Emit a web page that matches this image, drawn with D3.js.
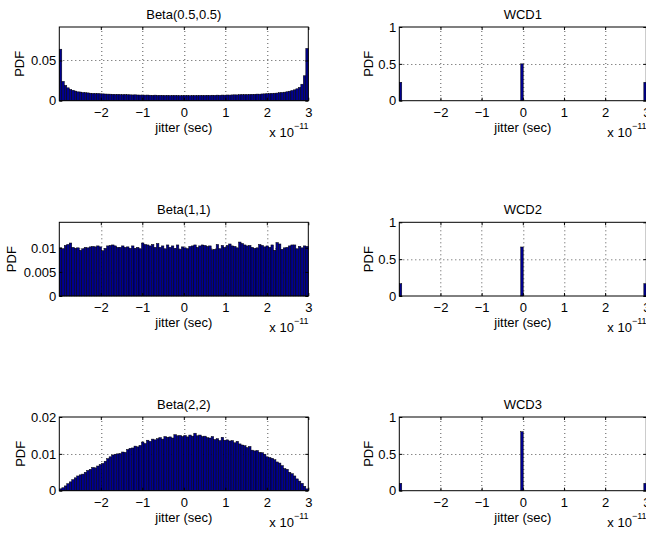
<!DOCTYPE html>
<html>
<head>
<meta charset="utf-8">
<script src="https://cdn.jsdelivr.net/npm/d3@7"></script>
<style>
  body { margin: 0; background: #fff; }
  svg { display: block; font-family: "Liberation Sans", Arial, Helvetica, sans-serif; }
</style>
</head>
<body>
<svg id="chart" width="646" height="533"></svg>
<script>
// x axis in units of 1e-11 sec, 100 histogram bins over [-3, 3]
const xDomain = [-3, 3]
const xTicks = [-2, -1, 0, 1, 2, 3]

const betaTitles = ['Beta(0.5,0.5)', 'Beta(1,1)', 'Beta(2,2)']
const wcdTitles = ['WCD1', 'WCD2', 'WCD3']

const beta05 = [0.064, 0.024, 0.019, 0.016, 0.014, 0.013, 0.012, 0.011, 0.0108, 0.0102,
  0.0099, 0.0097, 0.0093, 0.0091, 0.0089, 0.0090, 0.0086, 0.0085, 0.0083, 0.0082,
  0.0081, 0.0080, 0.0078, 0.0079, 0.0076, 0.0075, 0.0076, 0.0074, 0.0073, 0.0072,
  0.0073, 0.0071, 0.0070, 0.0071, 0.0069, 0.0070, 0.0068, 0.0067, 0.0069, 0.0066,
  0.0067, 0.0066, 0.0065, 0.0066, 0.0064, 0.0065, 0.0066, 0.0064, 0.0063, 0.0064,
  0.0064, 0.0065, 0.0063, 0.0064, 0.0065, 0.0064, 0.0066, 0.0065, 0.0066, 0.0067,
  0.0066, 0.0068, 0.0067, 0.0069, 0.0068, 0.0070, 0.0069, 0.0071, 0.0070, 0.0072,
  0.0073, 0.0072, 0.0074, 0.0075, 0.0076, 0.0075, 0.0078, 0.0079, 0.0080, 0.0082,
  0.0081, 0.0084, 0.0085, 0.0087, 0.0089, 0.0091, 0.0093, 0.0095, 0.0099, 0.0102,
  0.0106, 0.0111, 0.0118, 0.0126, 0.0135, 0.0148, 0.0165, 0.0205, 0.031, 0.065]

const beta11 = [0.0100, 0.0098, 0.0105, 0.0107, 0.0110, 0.0101, 0.0099, 0.0100, 0.0095, 0.0098,
  0.0101, 0.0100, 0.0102, 0.0103, 0.0102, 0.0104, 0.0102, 0.0094, 0.0099, 0.0104,
  0.0105, 0.0106, 0.0104, 0.0101, 0.0101, 0.0104, 0.0101, 0.0102, 0.0099, 0.0104,
  0.0099, 0.0101, 0.0098, 0.0110, 0.0107, 0.0106, 0.0104, 0.0107, 0.0101, 0.0109,
  0.0101, 0.0104, 0.0098, 0.0106, 0.0101, 0.0104, 0.0099, 0.0106, 0.0097, 0.0102,
  0.0100, 0.0098, 0.0103, 0.0104, 0.0106, 0.0101, 0.0104, 0.0106, 0.0105, 0.0103,
  0.0104, 0.0096, 0.0097, 0.0107, 0.0098, 0.0105, 0.0101, 0.0105, 0.0108, 0.0104,
  0.0103, 0.0100, 0.0112, 0.0109, 0.0106, 0.0104, 0.0105, 0.0101, 0.0099, 0.0100,
  0.0107, 0.0105, 0.0102, 0.0104, 0.0101, 0.0106, 0.0095, 0.0111, 0.0108, 0.0097,
  0.0100, 0.0101, 0.0104, 0.0106, 0.0106, 0.0098, 0.0103, 0.0100, 0.0104, 0.0103]

const beta22 = [0.0005, 0.0008, 0.0013, 0.0019, 0.0024, 0.0030, 0.0035, 0.0040, 0.0043, 0.0045,
  0.0050, 0.0055, 0.0058, 0.0063, 0.0062, 0.0067, 0.0071, 0.0074, 0.0080, 0.0087,
  0.0092, 0.0097, 0.0099, 0.0100, 0.0101, 0.0105, 0.0104, 0.0112, 0.0115, 0.0116,
  0.0121, 0.0119, 0.0123, 0.0132, 0.0128, 0.0137, 0.0134, 0.0140, 0.0138, 0.0141,
  0.0144, 0.0140, 0.0147, 0.0145, 0.0146, 0.0143, 0.0152, 0.0149, 0.0150, 0.0147,
  0.0150, 0.0146, 0.0151, 0.0148, 0.0156, 0.0149, 0.0151, 0.0147, 0.0148, 0.0144,
  0.0143, 0.0147, 0.0139, 0.0141, 0.0136, 0.0145, 0.0137, 0.0138, 0.0135, 0.0136,
  0.0130, 0.0134, 0.0127, 0.0124, 0.0122, 0.0117, 0.0120, 0.0110, 0.0108, 0.0109,
  0.0104, 0.0103, 0.0099, 0.0092, 0.0090, 0.0088, 0.0084, 0.0078, 0.0075, 0.0068,
  0.0060, 0.0058, 0.0050, 0.0046, 0.0040, 0.0032, 0.0026, 0.0020, 0.0012, 0.0005]

const betaValues = [beta05, beta11, beta22]
const betaYMax = [0.0916, 0.0153, 0.02]
const betaYTicks = [[0, 0.05], [0, 0.005, 0.01], [0, 0.01, 0.02]]

// worst-case distributions: spikes at the two edges and at zero
const wcdX = [-2.97, -0.02, 2.97]
const wcd1 = [0.25, 0.5, 0.25]
const wcd2 = [0.167, 0.665, 0.167]
const wcd3 = [0.1, 0.8, 0.1]
const wcdValues = [wcd1, wcd2, wcd3]
const wcdYTicks = [0, 0.5, 1]

const svg = d3.select('#chart')
const binW = (xDomain[1] - xDomain[0]) / 100
const barColor = '#00008f'
const fmtX = d => d < 0 ? '\u2212' + (-d) : String(d)

function drawPanel (left, top, opts) {
  const w = opts.w
  const h = 73.7
  const x = d3.scaleLinear().domain(xDomain).range([0, w])
  const y = d3.scaleLinear().domain([0, opts.yMax]).range([h, 0])
  const g = svg.append('g').attr('transform', `translate(${left},${top})`)

  // dotted grid
  const grid = g.append('g').attr('stroke', '#555').attr('stroke-width', 1).attr('stroke-dasharray', '1,3')
  grid.selectAll('.gx').data(xTicks.filter(d => d < xDomain[1]))
    .enter().append('line')
    .attr('x1', d => Math.round(x(d)) + 0.5).attr('x2', d => Math.round(x(d)) + 0.5)
    .attr('y1', 0).attr('y2', h)
  grid.selectAll('.gy').data(opts.yTicks.filter(d => d > 0 && d < opts.yMax))
    .enter().append('line')
    .attr('y1', d => Math.round(y(d)) + 0.5).attr('y2', d => Math.round(y(d)) + 0.5)
    .attr('x1', 0).attr('x2', w)

  // bars
  g.selectAll('rect.bar').data(opts.bars)
    .enter().append('rect')
    .attr('class', 'bar')
    .attr('x', d => x(d.x0))
    .attr('width', d => x(d.x1) - x(d.x0))
    .attr('y', d => y(d.v))
    .attr('height', d => h - y(d.v))
    .attr('fill', barColor)
    .attr('stroke', '#000')
    .attr('stroke-width', 0.5)

  // axes with inward ticks
  const ax = g.append('g').attr('transform', `translate(0,${h})`)
    .call(d3.axisBottom(x).tickValues(xTicks).tickFormat(fmtX).tickSize(-3).tickPadding(7))
  const ay = g.append('g')
    .call(d3.axisLeft(y).tickValues(opts.yTicks).tickFormat(d3.format('~g')).tickSize(-3).tickPadding(3))
  g.append('g').call(d3.axisTop(x).tickValues(xTicks).tickFormat('').tickSize(-3))
  g.append('g').attr('transform', `translate(${w},0)`)
    .call(d3.axisRight(y).tickValues(opts.yTicks).tickFormat('').tickSize(-3))
  g.selectAll('.domain').remove()
  g.selectAll('.tick line').attr('stroke', '#000')
  ;[ax, ay].forEach(a => a.selectAll('text').attr('font-size', 13).attr('fill', '#000').attr('font-family', null))

  g.append('rect').attr('width', w).attr('height', h)
    .attr('fill', 'none').attr('stroke', '#000').attr('stroke-width', 1)

  g.append('text').attr('x', w / 2).attr('y', -8)
    .attr('text-anchor', 'middle').attr('font-size', 13).text(opts.title)
  g.append('text').attr('x', w / 2).attr('y', h + 31)
    .attr('text-anchor', 'middle').attr('font-size', 13).text('jitter (sec)')
  g.append('text')
    .attr('transform', `translate(${-opts.ylabOff},${h / 2}) rotate(-90)`)
    .attr('text-anchor', 'middle').attr('dominant-baseline', 'central')
    .attr('font-size', 13).text('PDF')
  const sci = g.append('text').attr('x', w - 39).attr('y', h + 36).attr('font-size', 13)
  sci.append('tspan').text('x 10')
  sci.append('tspan').attr('dy', -8).attr('font-size', 9).text('\u221211')
}

const rowTop = [27, 222.3, 417]
const betaYlabOff = [39.8, 47.6, 39.3]

betaValues.forEach((vals, r) => {
  drawPanel(59.3, rowTop[r], {
    w: 249,
    yMax: betaYMax[r],
    yTicks: betaYTicks[r],
    title: betaTitles[r],
    ylabOff: betaYlabOff[r],
    bars: vals.map((v, i) => ({ x0: xDomain[0] + i * binW, x1: xDomain[0] + (i + 1) * binW, v }))
  })
})

wcdValues.forEach((vals, r) => {
  drawPanel(399.3, rowTop[r], {
    w: 247,
    yMax: 1,
    yTicks: wcdYTicks,
    title: wcdTitles[r],
    ylabOff: 31.3,
    bars: vals.map((v, i) => ({ x0: wcdX[i] - binW / 2, x1: wcdX[i] + binW / 2, v }))
  })
})
</script>
</body>
</html>
